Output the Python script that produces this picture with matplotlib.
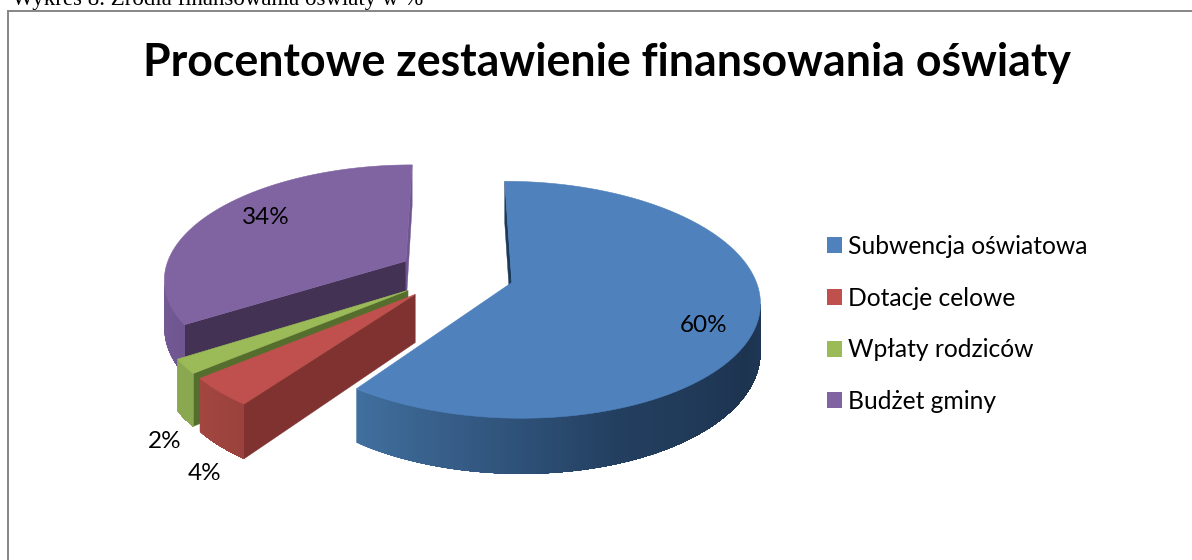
import numpy as np
import matplotlib
matplotlib.use("Agg")
import matplotlib.pyplot as plt
from matplotlib.patches import Polygon, Patch, Rectangle

categories = ["Subwencja oświatowa", "Dotacje celowe", "Wpłaty rodziców", "Budżet gminy"]
values = [60, 4, 2, 34]
value_labels = ["60%", "4%", "2%", "34%"]
title = "Procentowe zestawienie finansowania oświaty"
caption = "Wykres 8. Źródła finansowania oświaty w %"

top_colors = ["#4f81bd", "#c0504d", "#9bbb59", "#8064a2"]
radial_colors = ["#1c3a5a", "#7f3230", "#556e2d", "#433254"]
end_colors = ["#1c3a5a", "#7f3230", "#556e2d", "#6f5690"]
arc_stops = {
    0: ([90, 120, 160, 190, 216], ["#1f3a59", "#1d3450", "#233f60", "#345a84", "#41709f"]),
    1: ([216, 231], ["#9b423e", "#a3463f"]),
    2: ([230, 238], ["#8aa84f", "#8aa84f"]),
    3: ([237, 280], ["#6f5690", "#7a5f9c"]),
}
label_px = [(704, 326), (205, 474), (165, 442), (266, 218)]

X0, Y0, RX, RY, EXPLODE, PERSP, DEPTH = 456, 274, 242, 113.5, 0.24, 0.144, 47


def project(u, v, z=0.0):
    s = 1.0 / (1.0 - PERSP * v)
    return X0 + RX * u * s, Y0 + (RY * v + DEPTH * z) * s


def hex_rgb(c):
    return np.array(matplotlib.colors.to_rgb(c))


fig = plt.figure(figsize=(11.92, 5.6), dpi=100)
ax = fig.add_axes([0, 0, 1, 1])
ax.set_xlim(0, 1192)
ax.set_ylim(560, 0)
ax.axis("off")

ax.add_patch(Rectangle((8, 11), 1300, 700, fc="white", ec="#868686", lw=1.4, zorder=0))
ax.text(12, 5.5, caption, family="Liberation Serif", fontsize=16.5, ha="left", va="baseline",
        color="black", clip_on=False)
ax.text(606.5, 63, title, family="Lato", weight="bold", fontsize=32.15, ha="center", va="center")

fractions = np.array(values, float) / sum(values)
starts = np.concatenate([[0], np.cumsum(fractions)[:-1]]) * 360
ends = np.cumsum(fractions) * 360

z = 2
for i in [3, 2, 1, 0]:
    a0, a1 = starts[i], ends[i]
    mid = np.radians((a0 + a1) / 2)
    cu, cv = EXPLODE * np.sin(mid), -EXPLODE * np.cos(mid)
    th = np.radians(np.linspace(a0, a1, 240))
    us, vs = cu + np.sin(th), cv - np.cos(th)

    # radial faces, culled by their screen orientation
    for ang, idx, sign, col in [(a0, 0, -1, radial_colors[i]), (a1, -1, 1, end_colors[i])]:
        tip_t, edge_t = project(cu, cv), project(us[idx], vs[idx])
        tip_b, edge_b = project(cu, cv, 1), project(us[idx], vs[idx], 1)
        cross = (edge_t[0] - tip_t[0]) * (edge_b[1] - edge_t[1])
        if cross * sign > 0:
            ax.add_patch(Polygon([tip_t, edge_t, edge_b, tip_b], fc=col, ec=col, lw=0.3, zorder=z))
            z += 1

    # outer wall: overlapping strips painted from the far end, so no seams show
    stops, cols = arc_stops[i]
    rgb = np.array([hex_rgb(c) for c in cols])
    degs = np.degrees(th)
    xt, yt = project(us, vs)
    xb, yb = project(us, vs, 1)
    visible = np.where(np.diff(xt) < 0)[0]
    if len(visible):
        for j in visible[::-1]:
            col = [np.interp(degs[j], stops, rgb[:, k]) for k in range(3)]
            wall = list(zip(xt[visible[0]:j + 2], yt[visible[0]:j + 2])) + \
                list(zip(xb[visible[0]:j + 2][::-1], yb[visible[0]:j + 2][::-1]))
            ax.add_patch(Polygon(wall, fc=col, ec="none", lw=0, zorder=z))
    z += 1

    # top surface
    pts = [project(cu, cv)] + list(zip(xt, yt))
    ax.add_patch(Polygon(pts, fc=top_colors[i], ec=top_colors[i], lw=0.4, zorder=z))
    z += 1

for lab, (px, py) in zip(value_labels, label_px):
    ax.text(px, py, lab, family="Lato", fontsize=17.5, ha="center", va="center", zorder=50)

handles = [Patch(fc=c, ec="none") for c in top_colors]
ax.legend(handles, categories, loc="center left", bbox_to_anchor=(827 / 1192, 1 - 324 / 560),
          frameon=False, prop={"family": "Lato", "size": 17.7}, labelspacing=1.165,
          handlelength=0.61, handleheight=0.61, handletextpad=0.25, borderpad=0, borderaxespad=0)

fig.savefig("out.png", dpi=100)
